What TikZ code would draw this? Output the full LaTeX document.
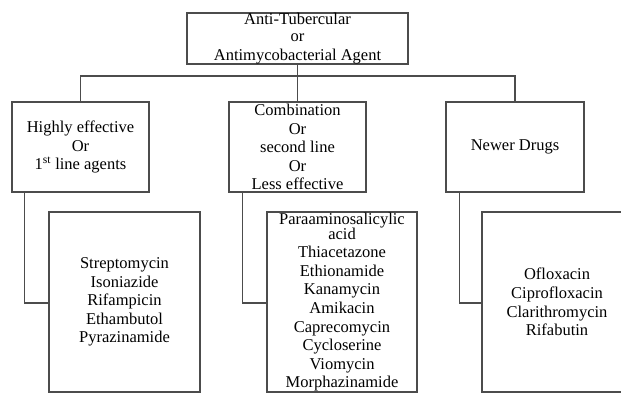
\documentclass[tikz,border=0pt]{standalone}
\usepackage{fontspec}
\setmainfont{Liberation Serif}
\begin{document}
\begin{tikzpicture}[x=1pt,y=-1pt,
  box/.style={draw=black!70, line width=1.3pt, inner sep=0pt, align=center,
    font=\fontsize{16.5}{18.6}\selectfont},
  link/.style={draw=black!70, line width=1.3pt}]
\clip (0,0) rectangle (621,392);
\node[box, minimum width=221pt, minimum height=51pt] (top) at (297.5,38.5)
  {\raisebox{-2pt}{Anti-Tubercular}\\or\\Antimycobacterial Agent};
\node[box, minimum width=137pt, minimum height=90pt] (l1) at (80.5,147)
  {Highly effective\\Or\\1\textsuperscript{st} line agents};
\node[box, minimum width=137pt, minimum height=90pt] (m1) at (297.5,147)
  {Combination\\Or\\second line\\Or\\Less effective};
\node[box, minimum width=138pt, minimum height=90pt] (r1) at (515,147)
  {Newer Drugs};
\node[box, minimum width=151pt, minimum height=180pt] (l2) at (124.5,302)
  {Streptomycin\\Isoniazide\\Rifampicin\\Ethambutol\\Pyrazinamide};
\node[box, minimum width=150pt, minimum height=180pt] (m2) at (342,302)
  {Paraaminosalicylic\\[-3.5pt]acid\\Thiacetazone\\Ethionamide\\Kanamycin\\Amikacin\\Caprecomycin\\Cycloserine\\Viomycin\\Morphazinamide};
\node[box, minimum width=150pt, minimum height=180pt] (r2) at (557,302)
  {Ofloxacin\\Ciprofloxacin\\Clarithromycin\\Rifabutin};
\coordinate (bus) at (297.5,76);
\draw[link] (top.south) -- (m1.north);
\draw[link] (l1.north) -- (l1.north |- bus) -- (r1.north |- bus) -- (r1.north);
\draw[link] ([xshift=13pt]l1.south west) |- ([yshift=-1pt]l2.west);
\draw[link] ([xshift=14pt]m1.south west) |- ([yshift=-1pt]m2.west);
\draw[link] ([xshift=14pt]r1.south west) |- ([yshift=-1pt]r2.west);
\end{tikzpicture}
\end{document}
